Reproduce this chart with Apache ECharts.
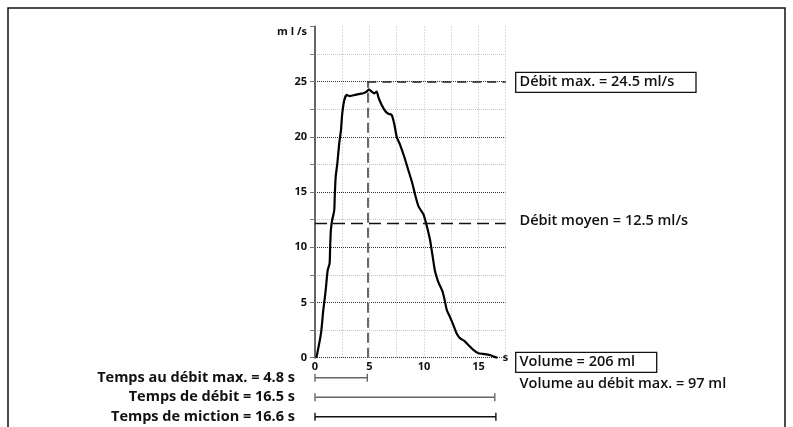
<!DOCTYPE html>
<html><head><meta charset="utf-8">
<script src="https://cdn.jsdelivr.net/npm/echarts@6/dist/echarts.min.js"></script>
<style>html,body{margin:0;padding:0;background:#fff}#c{width:793px;height:427px}</style>
</head><body><div id="c"></div>
<script>
// ---- data ----
const time = [0.1,0.15,0.55,0.76,0.98,1.16,1.34,1.39,1.46,1.58,1.68,1.77,1.82,1.9,2.05,2.22,2.38,2.5,2.68,2.91,3.21,3.67,4.13,4.43,4.74,4.94,5.2,5.45,5.65,5.85,6.12,6.48,6.73,7.03,7.27,7.5,7.8,8.19,8.56,8.93,9.23,9.5,9.75,9.95,10.24,10.55,10.8,11.0,11.3,11.7,11.9,12.1,12.38,12.68,13.0,13.32,13.67,14.07,14.53,14.99,15.59,16.04,16.42,16.75];
const flow = [0,0.1,2.2,4.3,6.1,7.9,8.55,10.05,11.6,12.5,12.9,13.4,14.8,16.4,17.6,19.4,20.6,22.1,23.3,23.8,23.7,23.8,23.9,23.95,24.1,24.3,24.1,23.95,24.1,23.5,22.9,22.3,22.1,22.0,21.2,20.0,19.3,18.2,17.0,15.8,14.6,13.7,13.3,13.0,12.0,10.7,9.15,7.9,6.9,6.0,5.2,4.3,3.7,3.0,2.2,1.75,1.55,1.15,0.7,0.4,0.33,0.24,0.1,0];
const xMin = 0, xMax = 17.5, xStep = 2.5;
const yMin = 0, yMax = 30, yStep = 2.5;
const labelStep = 5;
const maxFlowTime = 4.8;
const maxFlowLevel = 25;
const meanFlowLevel = 12.2;
const bracketLabels = ['Temps au débit max. = 4.8 s', 'Temps de débit = 16.5 s', 'Temps de miction = 16.6 s'];
const bracketStart = [0, 0, 0];
const bracketEnd = [4.8, 16.5, 16.6];
const textMaxFlow = 'Débit max. = 24.5 ml/s';
const textMeanFlow = 'Débit moyen = 12.5 ml/s';
const textVolume = 'Volume = 206 ml';
const textVolumeAtMax = 'Volume au débit max. = 97 ml';
const yName = 'm l /s';
const xName = 's';

// ---- styling ----
const FF = "'Open Sans', 'Noto Sans', sans-serif";
const bracketColors = ['#666', '#666', '#111'];

const curve = time.map((t, i) => [t, flow[i]]);
const brackets = bracketStart.map((s, i) => [s, bracketEnd[i], i]);

const chart = echarts.init(document.getElementById('c'), null, {renderer: 'canvas'});
const gLeft = 315, gRight = 287.3;

const option = {
  animation: false,
  backgroundColor: '#fff',
  grid: [
    {left: gLeft, right: gRight, top: 26.5, bottom: 69.3},
    {left: gLeft, right: gRight, top: 368, height: 58.5}
  ],
  xAxis: [
    {
      gridIndex: 0, type: 'value', min: xMin, max: xMax, interval: xStep,
      name: xName, nameLocation: 'end', nameGap: -3,
      nameTextStyle: {fontFamily: FF, fontWeight: 'bold', fontSize: 11, color: '#111', verticalAlign: 'middle', padding: [0,0,4,0]},
      axisLine: {show: false},
      axisTick: {show: false},
      axisLabel: {
        margin: 4, fontFamily: FF, fontWeight: 'bold', fontSize: 11, color: '#111',
        formatter: v => (v % labelStep === 0 && v < xMax) ? String(v) : ''
      },
      splitLine: {show: true, showMinLine: false, showMaxLine: true, lineStyle: {color: '#bdbdbd', type: [1, 2], width: 1}}
    },
    {gridIndex: 1, type: 'value', min: xMin, max: xMax, show: false}
  ],
  yAxis: [
    {
      gridIndex: 0, type: 'value', min: yMin, max: yMax, interval: yStep,
      name: yName, nameLocation: 'end', nameGap: -5,
      nameTextStyle: {fontFamily: FF, fontWeight: 'bold', fontSize: 11, color: '#111', align: 'right', verticalAlign: 'middle', padding: [0, 8, 0, 0]},
      axisLine: {show: true, lineStyle: {color: '#666', width: 2}},
      axisTick: {show: true, length: 5, lineStyle: {color: '#777', width: 1}},
      axisLabel: {
        margin: 8, fontFamily: FF, fontWeight: 'bold', fontSize: 11, color: '#111',
        formatter: v => (v % labelStep === 0 && v < yMax) ? String(v) : ''
      },
      splitLine: {show: true, showMinLine: true, showMaxLine: false,
        lineStyle: {color: ['#333', '#c4c4c4'], type: [1, 1], width: 1}}
    },
    {
      gridIndex: 1, type: 'category', data: bracketLabels, inverse: true,
      axisLine: {show: false}, axisTick: {show: false}, splitLine: {show: false},
      axisLabel: {interval: 0, hideOverlap: false, margin: 20, fontFamily: FF, fontWeight: 'bold', fontSize: 14.5, lineHeight: 16, color: '#111'}
    }
  ],
  series: [
    {
      type: 'line', xAxisIndex: 0, yAxisIndex: 0, data: curve,
      showSymbol: false, smooth: 0.2, clip: false,
      lineStyle: {color: '#000', width: 2.2},
      markLine: {
        silent: true, symbol: 'none', label: {show: false},
        data: [
          [{coord: [maxFlowTime, 0], lineStyle: {color: '#444', width: 1.6, type: [10, 5]}}, {coord: [maxFlowTime, maxFlowLevel]}],
          [{coord: [maxFlowTime, maxFlowLevel], lineStyle: {color: '#222', width: 1.5, type: [9, 6]}}, {coord: [xMax, maxFlowLevel]}],
          [{coord: [xMin, meanFlowLevel], lineStyle: {color: '#111', width: 1.4, type: [12, 6]}}, {coord: [xMax, meanFlowLevel]}]
        ]
      }
    },
    {
      type: 'custom', xAxisIndex: 1, yAxisIndex: 1, data: brackets,
      renderItem: function (params, api) {
        const a = api.coord([api.value(0), api.value(2)]);
        const b = api.coord([api.value(1), api.value(2)]);
        const col = bracketColors[params.dataIndex];
        const st = {stroke: col, lineWidth: 1.4};
        return {type: 'group', children: [
          {type: 'line', shape: {x1: a[0], y1: a[1], x2: b[0], y2: b[1]}, style: st},
          {type: 'line', shape: {x1: a[0], y1: a[1] - 4, x2: a[0], y2: a[1] + 4}, style: st},
          {type: 'line', shape: {x1: b[0], y1: b[1] - 4, x2: b[0], y2: b[1] + 4}, style: st}
        ]};
      }
    }
  ],
  graphic: [
    {type: 'polyline', shape: {points: [[8, 440], [8, 8], [785, 8], [785, 440]]}, style: {stroke: '#111', lineWidth: 1.5, fill: null}, silent: true},
    {type: 'rect', shape: {x: 515.7, y: 72.3, width: 180.3, height: 20}, style: {stroke: '#111', lineWidth: 1.3, fill: '#fff'}},
    {type: 'text', x: 519.5, y: 82.3, style: {text: textMaxFlow, font: '600 14.5px ' + FF, fill: '#111', verticalAlign: 'middle', align: 'left'}},
    {type: 'text', x: 519.5, y: 221, style: {text: textMeanFlow, font: '600 14.5px ' + FF, fill: '#111', verticalAlign: 'middle', align: 'left'}},
    {type: 'rect', shape: {x: 515.7, y: 352.3, width: 141, height: 20}, style: {stroke: '#111', lineWidth: 1.3, fill: '#fff'}},
    {type: 'text', x: 519.5, y: 362.3, style: {text: textVolume, font: '600 14.5px ' + FF, fill: '#111', verticalAlign: 'middle', align: 'left'}},
    {type: 'text', x: 519.5, y: 384, style: {text: textVolumeAtMax, font: '600 14.5px ' + FF, fill: '#111', verticalAlign: 'middle', align: 'left'}}
  ]
};
chart.setOption(option);
</script>
</body></html>
